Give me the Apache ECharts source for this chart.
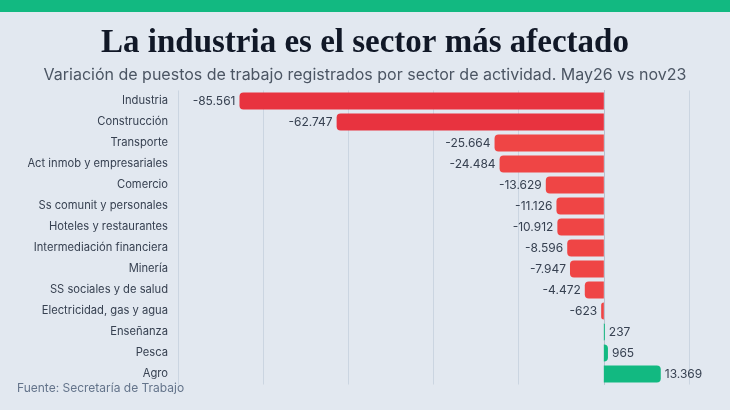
<!DOCTYPE html>
<html><head><meta charset="utf-8">
<script src="https://cdn.jsdelivr.net/npm/echarts@6/dist/echarts.min.js"></script>
<style>html,body{margin:0;padding:0;background:#e2e8f0;}#c{width:730px;height:410px;}</style>
</head><body><div id="c"></div>
<script>
var categories = ["Industria","Construcción","Transporte","Act inmob y empresariales","Comercio","Ss comunit y personales","Hoteles y restaurantes","Intermediación financiera","Minería","SS sociales y de salud","Electricidad, gas y agua","Enseñanza","Pesca","Agro"];
var values = [-85561,-62747,-25664,-24484,-13629,-11126,-10912,-8596,-7947,-4472,-623,237,965,13369];

function fmt(v){
  var s = Math.abs(v).toString().replace(/\B(?=(\d{3})+(?!\d))/g, '.');
  return (v < 0 ? '-' : '') + s;
}
function colorOf(v){ return v < -50000 ? '#e8333f' : (v < 0 ? '#ef4545' : '#12b981'); }

var chart = echarts.init(document.getElementById('c'));
chart.setOption({
  backgroundColor: '#e2e8f0',
  animation: false,
  title: [{
    text: 'La industria es el sector más afectado',
    left: 'center', top: 22,
    textStyle: {fontFamily: 'Liberation Serif', fontWeight: 'bold', fontSize: 33, color: '#111827'}
  },{
    text: 'Variación de puestos de trabajo registrados por sector de actividad. May26 vs nov23',
    left: 'center', top: 62,
    textStyle: {fontFamily: 'Inter', fontWeight: 'normal', fontSize: 16, color: '#4b5563'}
  }],
  graphic: [
    {type: 'rect', left: 0, top: 0, shape: {width: 730, height: 12}, style: {fill: '#12b981'}},
    {type: 'text', left: 17, top: 382, style: {text: 'Fuente: Secretaría de Trabajo', fontFamily: 'Inter', fontSize: 12, fill: '#64748b'}}
  ],
  grid: {left: 178, right: 41, top: 90.5, bottom: 25.5, containLabel: false},
  xAxis: {
    type: 'value', min: -100000, max: 20000, interval: 20000,
    axisLabel: {show: false}, axisLine: {show: false}, axisTick: {show: false},
    splitLine: {show: true, lineStyle: {color: '#cbd5e1', width: 1}}
  },
  yAxis: {
    type: 'category', inverse: true, data: categories,
    axisLine: {show: true, onZero: true, lineStyle: {color: '#b8c2cf'}},
    axisTick: {show: false},
    axisLabel: {show: true, fontFamily: 'Inter', fontSize: 11.2, color: '#374151', margin: 10},
    position: 'left'
  },
  series: [{
    type: 'bar',
    barWidth: 17,
    data: values.map(function(v){
      return {
        value: v,
        itemStyle: {color: colorOf(v), borderRadius: v < 0 ? [4,0,0,4] : [0,4,4,0]},
        label: {position: v < 0 ? 'left' : 'right'}
      };
    }),
    label: {
      show: true, distance: 4, fontFamily: 'Inter', fontSize: 12, color: '#374151',
      formatter: function(p){ return fmt(p.value); }
    }
  }]
});
</script></body></html>
